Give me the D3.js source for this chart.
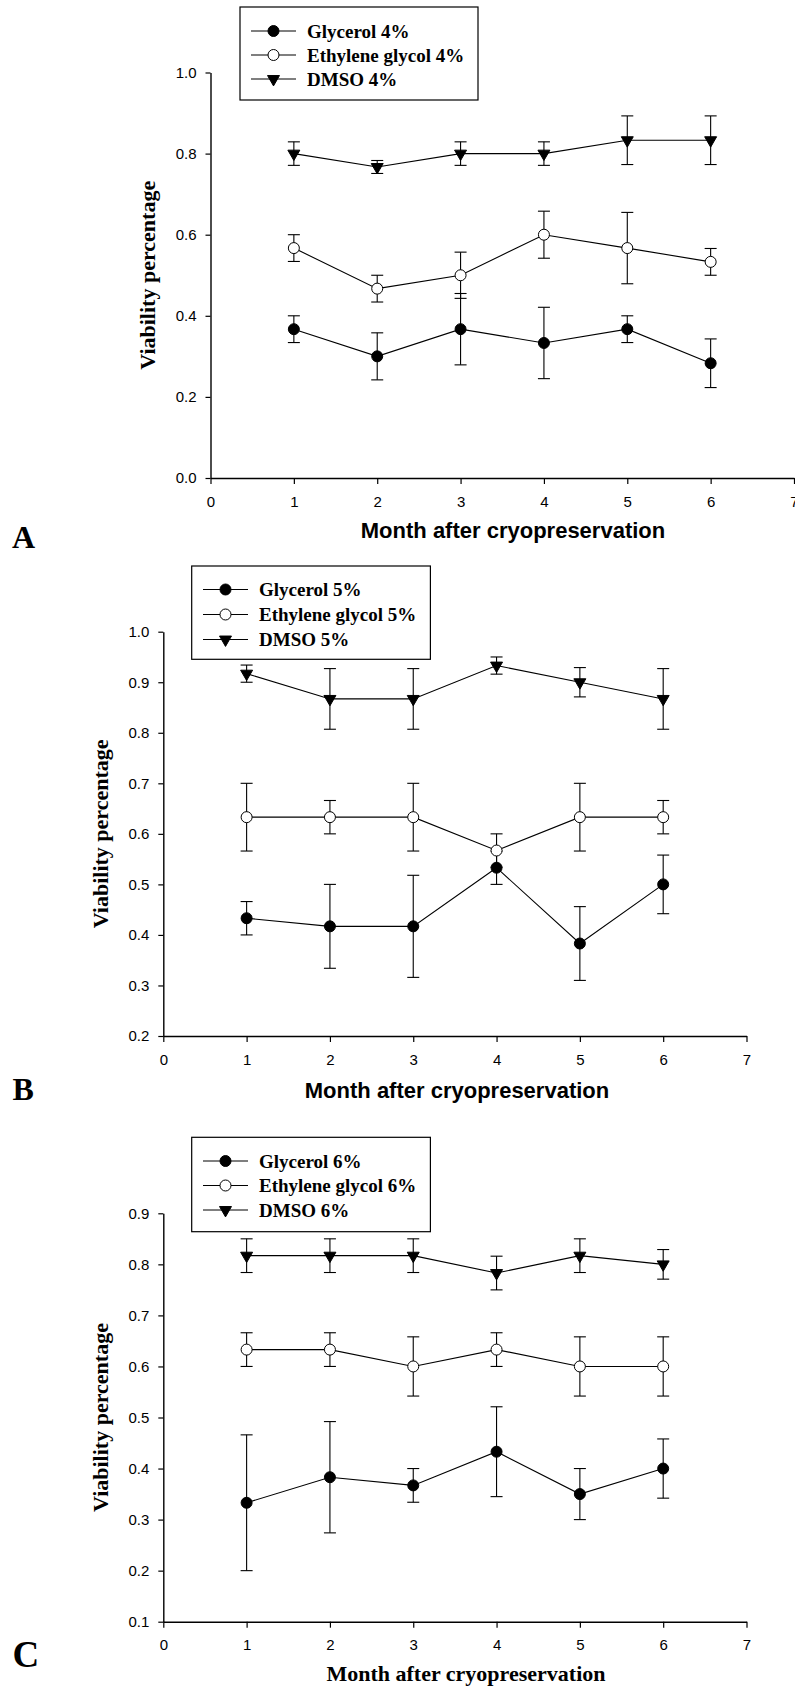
<!DOCTYPE html>
<html>
<head>
<meta charset="utf-8">
<script src="https://cdn.jsdelivr.net/npm/d3@7"></script>
<style>
  body { margin: 0; background: #fff; }
  svg { display: block; }
</style>
</head>
<body>
<div id="chart"></div>
<script>
// ---- data ----
var months = [1, 2, 3, 4, 5, 6];
var xTicks = [0, 1, 2, 3, 4, 5, 6, 7];

// A: 4%
var glycerol4    = [0.367, 0.300, 0.367, 0.333, 0.367, 0.283];
var glycerol4Err = [0.033, 0.058, 0.088, 0.088, 0.033, 0.060];
var eg4          = [0.567, 0.467, 0.500, 0.600, 0.567, 0.533];
var eg4Err       = [0.033, 0.033, 0.057, 0.058, 0.088, 0.033];
var dmso4        = [0.800, 0.767, 0.800, 0.800, 0.833, 0.833];
var dmso4Err     = [0.029, 0.016, 0.029, 0.029, 0.060, 0.060];
var yTicksA      = [0.0, 0.2, 0.4, 0.6, 0.8, 1.0];

// B: 5%
var glycerol5    = [0.433, 0.417, 0.417, 0.533, 0.383, 0.500];
var glycerol5Err = [0.033, 0.083, 0.101, 0.033, 0.073, 0.058];
var eg5          = [0.633, 0.633, 0.633, 0.567, 0.633, 0.633];
var eg5Err       = [0.067, 0.033, 0.067, 0.033, 0.067, 0.033];
var dmso5        = [0.917, 0.867, 0.867, 0.933, 0.900, 0.867];
var dmso5Err     = [0.017, 0.060, 0.060, 0.017, 0.029, 0.060];
var yTicksB      = [0.2, 0.3, 0.4, 0.5, 0.6, 0.7, 0.8, 0.9, 1.0];

// C: 6%
var glycerol6    = [0.333, 0.383, 0.367, 0.433, 0.350, 0.400];
var glycerol6Err = [0.133, 0.109, 0.033, 0.088, 0.050, 0.058];
var eg6          = [0.633, 0.633, 0.600, 0.633, 0.600, 0.600];
var eg6Err       = [0.033, 0.033, 0.058, 0.033, 0.058, 0.058];
var dmso6        = [0.817, 0.817, 0.817, 0.783, 0.817, 0.800];
var dmso6Err     = [0.033, 0.033, 0.033, 0.033, 0.033, 0.029];
var yTicksC      = [0.1, 0.2, 0.3, 0.4, 0.5, 0.6, 0.7, 0.8, 0.9];

var serif = "'Liberation Serif', 'Times New Roman', serif";
var sans = "'Liberation Sans', Arial, sans-serif";

// ---- layout of each panel ----
var panels = [
  { letter: "A", pct: "4%", ticks: yTicksA,
    series: [[glycerol4, glycerol4Err], [eg4, eg4Err], [dmso4, dmso4Err]],
    x0: 210.5, x1: 794, yb: 478, yt: 72.5,
    legend: { x: 240, y: 7, w: 238, h: 93, rows: [31, 55, 79], lx: 251 },
    yTitleX: 155, letterX: 12, letterY: 548, letterSize: 32,
    xTitle: { x: 513, y: 538, font: sans, size: 22 } },
  { letter: "B", pct: "5%", ticks: yTicksB,
    series: [[glycerol5, glycerol5Err], [eg5, eg5Err], [dmso5, dmso5Err]],
    x0: 163.3, x1: 746.5, yb: 1036, yt: 631.7,
    legend: { x: 191.7, y: 566, w: 238.7, h: 93.3, rows: [589.5, 614.5, 639.5], lx: 203 },
    yTitleX: 108, letterX: 12.5, letterY: 1100, letterSize: 32,
    xTitle: { x: 457, y: 1098, font: sans, size: 22 } },
  { letter: "C", pct: "6%", ticks: yTicksC,
    series: [[glycerol6, glycerol6Err], [eg6, eg6Err], [dmso6, dmso6Err]],
    x0: 163.3, x1: 746.5, yb: 1621.7, yt: 1213.3,
    legend: { x: 191.7, y: 1137.3, w: 238.7, h: 94.4, rows: [1161, 1185.5, 1210], lx: 203 },
    yTitleX: 108, letterX: 12.5, letterY: 1667, letterSize: 37,
    xTitle: { x: 466, y: 1681, font: serif, size: 22 } }
];

var names = ["Glycerol", "Ethylene glycol", "DMSO"];
var circle = d3.symbol(d3.symbolCircle, 95);
var tri = d3.symbol(d3.symbolTriangle, 62);

function drawSymbol(g, kind, cx, cy) {
  return g.append("path")
    .attr("transform", "translate(" + cx + "," + cy + ")" + (kind === 2 ? " rotate(180)" : ""))
    .attr("d", kind === 2 ? tri() : circle())
    .attr("stroke", "#000")
    .attr("stroke-width", 1)
    .attr("fill", kind === 1 ? "#fff" : "#000");
}

var svg = d3.select("#chart").append("svg")
  .attr("width", 795).attr("height", 1687);

panels.forEach(function (p) {
  var x = d3.scaleLinear().domain([0, 7]).range([p.x0, p.x1]);
  var y = d3.scaleLinear().domain([p.ticks[0], p.ticks[p.ticks.length - 1]]).range([p.yb, p.yt]);
  var g = svg.append("g");

  // axes
  var xa = g.append("g").attr("transform", "translate(0," + p.yb + ")")
    .call(d3.axisBottom(x).tickValues(xTicks).tickFormat(d3.format("d"))
      .tickSize(6).tickSizeOuter(0).tickPadding(12));
  var ya = g.append("g").attr("transform", "translate(" + p.x0 + ",0)")
    .call(d3.axisLeft(y).tickValues(p.ticks).tickFormat(d3.format(".1f"))
      .tickSize(5).tickSizeOuter(0).tickPadding(9));
  [xa, ya].forEach(function (a) {
    a.select(".domain").attr("stroke-width", 1.4);
    a.selectAll(".tick line").attr("stroke-width", 1.2);
    a.selectAll("text").attr("font-family", sans).attr("font-size", 15).attr("fill", "#000");
  });

  // lines and error bars
  p.series.forEach(function (s) {
    var vals = s[0], errs = s[1];
    var pts = months.map(function (m, i) { return { m: m, v: vals[i], e: errs[i] }; });
    g.append("path").datum(pts)
      .attr("fill", "none").attr("stroke", "#000").attr("stroke-width", 1.1)
      .attr("d", d3.line().x(function (d) { return x(d.m); }).y(function (d) { return y(d.v); }));
    var eb = g.append("g").attr("stroke", "#000").attr("stroke-width", 1.1);
    pts.forEach(function (d) {
      eb.append("line").attr("x1", x(d.m)).attr("x2", x(d.m))
        .attr("y1", y(d.v - d.e)).attr("y2", y(d.v + d.e));
      [d.v - d.e, d.v + d.e].forEach(function (v) {
        eb.append("line").attr("x1", x(d.m) - 6).attr("x2", x(d.m) + 6)
          .attr("y1", y(v)).attr("y2", y(v));
      });
    });
  });
  // markers on top
  p.series.forEach(function (s, k) {
    months.forEach(function (m, i) { drawSymbol(g, k, x(m), y(s[0][i])); });
  });

  // legend
  var L = p.legend;
  g.append("rect").attr("x", L.x).attr("y", L.y).attr("width", L.w).attr("height", L.h)
    .attr("fill", "#fff").attr("stroke", "#000").attr("stroke-width", 1.2);
  names.forEach(function (n, k) {
    var ry = L.rows[k];
    g.append("line").attr("x1", L.lx).attr("x2", L.lx + 45).attr("y1", ry).attr("y2", ry)
      .attr("stroke", "#000").attr("stroke-width", 1.1);
    drawSymbol(g, k, L.lx + 22.5, ry);
    g.append("text").attr("x", L.lx + 56).attr("y", ry + 6.5)
      .attr("font-family", serif).attr("font-weight", "bold").attr("font-size", 19)
      .text(n + " " + p.pct);
  });

  // titles
  g.append("text")
    .attr("transform", "translate(" + p.yTitleX + "," + ((p.yb + p.yt) / 2) + ") rotate(-90)")
    .attr("text-anchor", "middle")
    .attr("font-family", serif).attr("font-weight", "bold").attr("font-size", 22)
    .text("Viability percentage");
  g.append("text").attr("x", p.xTitle.x).attr("y", p.xTitle.y)
    .attr("text-anchor", "middle")
    .attr("font-family", p.xTitle.font).attr("font-weight", "bold").attr("font-size", p.xTitle.size)
    .text("Month after cryopreservation");
  g.append("text").attr("x", p.letterX).attr("y", p.letterY)
    .attr("font-family", serif).attr("font-weight", "bold").attr("font-size", p.letterSize)
    .text(p.letter);
});
</script>
</body>
</html>
